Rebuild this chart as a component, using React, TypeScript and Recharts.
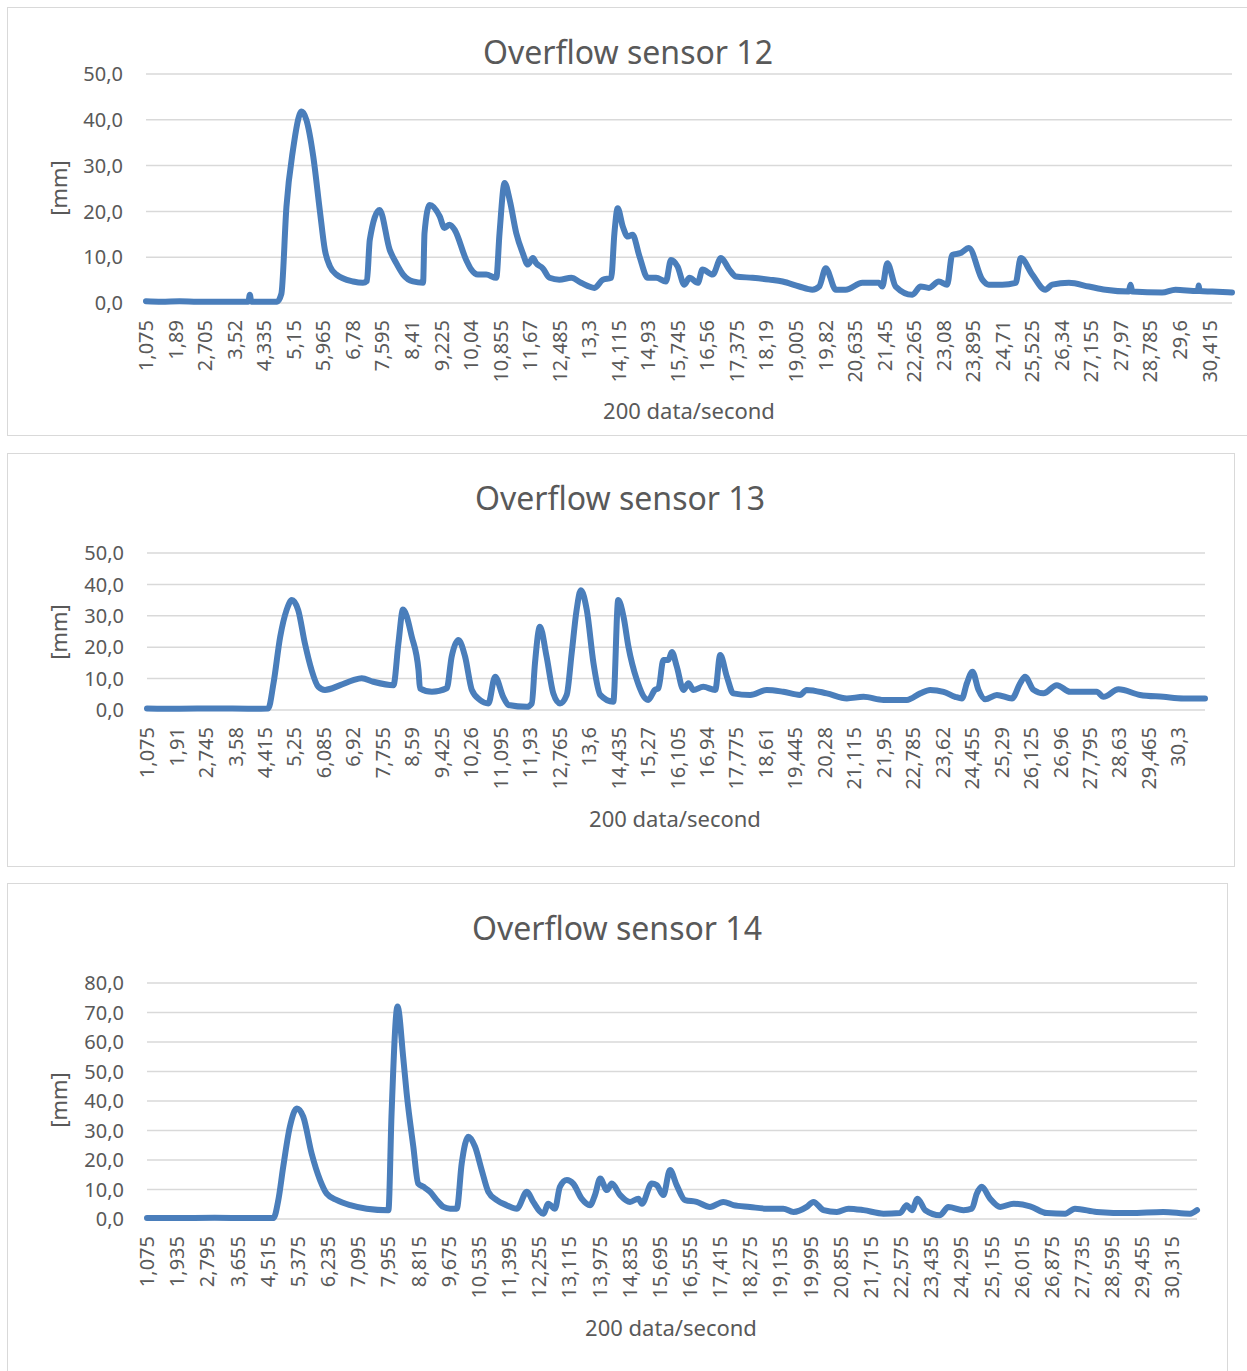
import React from 'react';
import { LineChart, Line, XAxis, YAxis, CartesianGrid } from 'recharts';

// time [s] and level [mm]
const S12_T = [
  1.075, 1.5, 2.0, 2.5, 3.0, 3.5, 3.9, 3.94, 3.98, 4.3, 4.69, 4.81, 4.95, 5.13, 5.37, 5.5, 5.69,
  5.87, 6.01, 6.15, 6.33, 6.79, 7.06, 7.17, 7.25, 7.52, 7.8, 7.98, 8.17, 8.44, 8.72, 8.76, 8.9,
  9.18, 9.31, 9.45, 9.59, 9.91, 10.05, 10.23, 10.46, 10.74, 10.83, 10.97, 11.11, 11.29, 11.47,
  11.61, 11.75, 11.84, 12.02, 12.21, 12.48, 12.81, 13.08, 13.45, 13.68, 13.91, 14.0, 14.09,
  14.23, 14.37, 14.5, 14.69, 14.92, 15.15, 15.42, 15.56, 15.74, 15.93, 16.07, 16.3, 16.43,
  16.71, 16.94, 17.17, 17.35, 17.81, 18.27, 18.64, 19.1, 19.46, 19.65, 19.83, 20.11, 20.38,
  20.84, 21.3, 21.39, 21.53, 21.76, 22.22, 22.45, 22.68, 22.95, 23.18, 23.32, 23.55, 23.78,
  24.15, 24.33, 24.7, 25.07, 25.21, 25.53, 25.89, 26.08, 26.54, 27.09, 27.55, 28.19, 28.24,
  28.29, 29.11, 29.48, 30.1, 30.12, 30.15, 30.49, 31.04,
];
const S12_MM = [
  0.4, 0.3, 0.4, 0.3, 0.3, 0.3, 0.3, 1.8, 0.3, 0.3, 0.3, 2.0, 21, 33.4, 41.8, 40, 32,
  20.3, 11.6, 8, 6.2, 4.7, 4.4, 4.8, 13.8, 20.3, 11.6, 8.7, 6.2, 4.7, 4.4, 15.3, 21.4,
  18.9, 16.4, 17.1, 16, 9.4, 7.3, 6.2, 6.2, 5.5, 15.3, 26.2, 22.5, 15.3, 10.9,
  8.4, 9.8, 8.7, 7.6, 5.5, 5.1, 5.5, 4.4, 3.3, 5.1, 5.5, 15.3, 20.7,
  16.7, 14.5, 14.9, 10.2, 5.5, 5.5, 4.7, 9.4, 8, 4, 5.5, 4.4, 7.3,
  6.2, 9.8, 7.3, 5.8, 5.5, 5.1, 4.7, 3.6, 2.9, 3.6, 7.6, 2.9, 2.9,
  4.4, 4.4, 3.6, 8.7, 3.6, 1.8, 3.6, 3.3, 4.7, 4.0, 10.5, 10.9, 12,
  5.1, 4.0, 4.0, 4.4, 9.8, 6.2, 2.9, 4.0, 4.4, 3.6, 2.9, 2.5, 4.0,
  2.5, 2.3, 2.9, 2.6, 3.8, 2.6, 2.5, 2.3,
];

const S13_T = [
  1.075, 2.0, 3.0, 4.0, 4.51, 4.66, 4.85, 5.03, 5.18, 5.36, 5.55, 5.74, 5.93, 6.12, 6.55, 6.92,
  7.16, 7.49, 8.06, 8.2, 8.33, 8.58, 8.77, 8.81, 9.15, 9.57, 9.71, 9.9, 10.09, 10.28, 10.51,
  10.75, 10.94, 11.17, 11.32, 11.84, 11.98, 12.07, 12.21, 12.4, 12.59, 12.78, 12.97, 13.11,
  13.25, 13.37, 13.54, 13.73, 13.92, 14.29, 14.43, 14.58, 14.72, 14.96, 15.28, 15.47, 15.57,
  15.71, 15.85, 15.95, 16.09, 16.28, 16.42, 16.56, 16.84, 17.18, 17.32, 17.51, 17.69, 18.17,
  18.64, 19.11, 19.58, 19.77, 20.34, 20.91, 21.38, 21.95, 22.61, 22.99, 23.27, 23.65, 23.98,
  24.17, 24.31, 24.47, 24.64, 24.83, 25.16, 25.59, 25.82, 25.96, 26.2, 26.48, 26.86, 27.24,
  27.99, 28.18, 28.61, 29.22, 29.88, 30.45, 31.06,
];
const S13_MM = [
  0.5, 0.4, 0.5, 0.4, 0.5, 8.5, 23.3, 31.8, 35, 31.8, 21.2, 12.7, 7.4, 6.4, 7.9, 9.5,
  10.1, 9.0, 7.9, 21.2, 32, 23.3, 12.7, 6.9, 5.8, 6.9, 17, 22.3, 17, 6.4, 3.2,
  2.1, 10.6, 4.2, 1.6, 1.0, 2.1, 14.8, 26.5, 17, 5.3, 2.1, 4.8, 18,
  31.8, 38.1, 31.8, 14.8, 4.8, 2.6, 35, 29.7, 20.1, 9.5, 3.2, 6.4, 6.9,
  15.9, 15.9, 18.5, 13.8, 6.4, 8.5, 6.4, 7.4, 6.4, 17.5, 10.6, 5.3, 4.8,
  6.4, 5.8, 4.8, 6.4, 5.3, 3.7, 4.2, 3.2, 3.2, 5.3, 6.4, 5.8, 4.2,
  3.7, 8.5, 12.2, 6.4, 3.4, 4.8, 3.7, 8.5, 10.6, 6.4, 5.3, 7.9, 5.8,
  5.8, 4.2, 6.6, 4.8, 4.2, 3.7, 3.7,
];

const S14_T = [
  1.075, 2.0, 3.0, 4.0, 4.68, 4.82, 4.96, 5.15, 5.35, 5.53, 5.77, 6.01, 6.2, 6.49, 6.87, 7.34,
  7.96, 8.05, 8.22, 8.38, 8.48, 8.67, 8.81, 8.96, 9.15, 9.34, 9.53, 9.72, 9.91, 10.05, 10.24,
  10.43, 10.62, 10.81, 11.05, 11.33, 11.62, 11.91, 12.09, 12.38, 12.52, 12.71, 12.85, 13.05,
  13.23, 13.47, 13.71, 13.85, 14.0, 14.19, 14.33, 14.57, 14.85, 15.09, 15.19, 15.47, 15.61,
  15.8, 15.99, 16.18, 16.42, 16.75, 17.13, 17.51, 17.8, 18.27, 18.75, 19.22, 19.51, 19.89,
  20.08, 20.37, 20.75, 21.08, 21.51, 22.08, 22.55, 22.74, 22.89, 23.05, 23.27, 23.69, 23.93,
  24.36, 24.6, 24.74, 24.88, 25.12, 25.41, 25.79, 26.26, 26.74, 27.26, 27.54, 28.16, 29.11,
  30.06, 30.82, 31.02,
];
const S14_MM = [
  0.3, 0.3, 0.4, 0.3, 0.3, 6.4, 17.7, 31.3, 37.5, 34.7, 22.2, 13.2, 8.6, 6.4, 4.7, 3.5,
  3.0, 35.8, 72, 55, 42.6, 24.5, 12, 10.9, 9.2, 6.4, 4.1, 3.5, 3.5, 18.8, 27.9,
  24.5, 16.6, 9.2, 6.4, 4.7, 3.5, 9.2, 5.8, 1.8, 5.2, 3.5, 10.9, 13.2,
  12, 6.9, 4.7, 8.1, 13.7, 9.8, 12, 8.1, 5.8, 6.9, 5.2, 12, 11.5,
  8.1, 16.6, 11.5, 6.4, 5.8, 4.1, 5.8, 4.7, 4.1, 3.5, 3.5, 2.4, 4.1,
  5.8, 3.0, 2.4, 3.5, 3.0, 1.8, 2.0, 4.7, 3.0, 6.9, 3.0, 1.3, 4.1,
  3.0, 3.5, 8.6, 10.9, 6.9, 4.1, 5.2, 4.3, 2.0, 1.8, 3.5, 2.4, 2.0,
  2.4, 1.8, 3.0,
];

// category labels shown under each chart (every 163 / 167 / 172 samples)
const TICKS_12 = [
  1.075, 1.89, 2.705, 3.52, 4.335, 5.15, 5.965, 6.78, 7.595, 8.41, 9.225, 10.04, 10.855, 11.67,
  12.485, 13.3, 14.115, 14.93, 15.745, 16.56, 17.375, 18.19, 19.005, 19.82, 20.635, 21.45,
  22.265, 23.08, 23.895, 24.71, 25.525, 26.34, 27.155, 27.97, 28.785, 29.6, 30.415,
];
const TICKS_13 = [
  1.075, 1.91, 2.745, 3.58, 4.415, 5.25, 6.085, 6.92, 7.755, 8.59, 9.425, 10.26, 11.095, 11.93,
  12.765, 13.6, 14.435, 15.27, 16.105, 16.94, 17.775, 18.61, 19.445, 20.28, 21.115, 21.95,
  22.785, 23.62, 24.455, 25.29, 26.125, 26.96, 27.795, 28.63, 29.465, 30.3,
];
const TICKS_14 = [
  1.075, 1.935, 2.795, 3.655, 4.515, 5.375, 6.235, 7.095, 7.955, 8.815, 9.675, 10.535, 11.395,
  12.255, 13.115, 13.975, 14.835, 15.695, 16.555, 17.415, 18.275, 19.135, 19.995, 20.855,
  21.715, 22.575, 23.435, 24.295, 25.155, 26.015, 26.875, 27.735, 28.595, 29.455, 30.315,
];
const Y_TICKS_50 = [0, 10, 20, 30, 40, 50];
const Y_TICKS_80 = [0, 10, 20, 30, 40, 50, 60, 70, 80];

const FONT = "'Noto Sans', 'Open Sans', sans-serif";
const TEXT = '#595959';
const BLUE = '#4a7ebb';
const GRID = '#d9d9d9';

const comma = (v: number) => String(v).replace('.', ',');
const oneDec = (v: number) => v.toFixed(1).replace('.', ',');
const zip = (t: number[], mm: number[]) => t.map((x, i) => ({ t: x, mm: mm[i] }));

function RotTick(props: any) {
  const { x, y, payload } = props;
  return (
    <text
      x={x}
      y={y}
      transform={`rotate(-90, ${x}, ${y})`}
      textAnchor="end"
      dy="0.36em"
      fill={TEXT}
      fontSize={20}
      fontFamily={FONT}
    >
      {comma(payload.value)}
    </text>
  );
}

function Caption({ x, y, size, rotate, children }: any) {
  return (
    <div
      style={{
        position: 'absolute',
        left: x,
        top: y,
        transform: `translate(-50%, -50%)${rotate ? ' rotate(-90deg)' : ''}`,
        fontFamily: FONT,
        fontSize: size,
        color: TEXT,
        whiteSpace: 'nowrap',
        lineHeight: 1,
      }}
    >
      {children}
    </div>
  );
}

function Panel({ data, xTicks, xMax, yTicks, yMax, top, height, margin }: any) {
  return (
    <div style={{ position: 'absolute', left: 0, top }}>
      <LineChart width={1247} height={height} data={data} margin={margin}>
        <CartesianGrid vertical={false} stroke={GRID} strokeWidth={1.5} />
        <XAxis
          dataKey="t"
          type="number"
          domain={[1.075, xMax]}
          ticks={xTicks}
          interval={0}
          tickSize={0}
          tickMargin={17}
          axisLine={false}
          tickLine={false}
          height={80}
          tick={<RotTick />}
        />
        <YAxis
          type="number"
          domain={[0, yMax]}
          ticks={yTicks}
          interval={0}
          tickSize={0}
          tickMargin={23}
          axisLine={false}
          tickLine={false}
          width={60}
          tickFormatter={oneDec}
          tick={{ fontSize: 20, fill: TEXT, fontFamily: FONT }}
        />
        <Line
          dataKey="mm"
          type="monotone"
          stroke={BLUE}
          strokeWidth={6}
          strokeLinejoin="round"
          strokeLinecap="round"
          dot={false}
          isAnimationActive={false}
        />
      </LineChart>
    </div>
  );
}

const boxStyle = (left: number, top: number, width: number, height: number): React.CSSProperties => ({
  position: 'absolute',
  left,
  top,
  width,
  height,
  border: `1.5px solid ${GRID}`,
  boxSizing: 'border-box',
  background: '#fff',
});

export default function App() {
  return (
    <div
      style={{
        position: 'fixed',
        left: 0,
        top: 0,
        width: 1247,
        height: 1371,
        overflow: 'hidden',
        background: '#fff',
      }}
    >
      <div style={boxStyle(7, 7, 1250, 429)} />
      <div style={boxStyle(7, 453, 1228, 414)} />
      <div style={boxStyle(7, 883, 1221, 500)} />

      <Panel
        data={zip(S12_T, S12_MM)}
        xTicks={TICKS_12}
        xMax={31.04}
        yTicks={Y_TICKS_50}
        yMax={50}
        top={0}
        height={440}
        margin={{ top: 74, right: 15, bottom: 57, left: 86 }}
      />
      <Panel
        data={zip(S13_T, S13_MM)}
        xTicks={TICKS_13}
        xMax={31.06}
        yTicks={Y_TICKS_50}
        yMax={50}
        top={440}
        height={440}
        margin={{ top: 113, right: 42, bottom: 90, left: 87 }}
      />
      <Panel
        data={zip(S14_T, S14_MM)}
        xTicks={TICKS_14}
        xMax={31.02}
        yTicks={Y_TICKS_80}
        yMax={80}
        top={880}
        height={491}
        margin={{ top: 103, right: 50, bottom: 72, left: 87 }}
      />

      <Caption x={628} y={52} size={32}>Overflow sensor 12</Caption>
      <Caption x={58} y={188} size={22} rotate>[mm]</Caption>
      <Caption x={689} y={410} size={22}>200 data/second</Caption>

      <Caption x={620} y={498} size={32}>Overflow sensor 13</Caption>
      <Caption x={58} y={632} size={22} rotate>[mm]</Caption>
      <Caption x={675} y={818} size={22}>200 data/second</Caption>

      <Caption x={617} y={928} size={32}>Overflow sensor 14</Caption>
      <Caption x={58} y={1100} size={22} rotate>[mm]</Caption>
      <Caption x={671} y={1327} size={22}>200 data/second</Caption>
    </div>
  );
}
